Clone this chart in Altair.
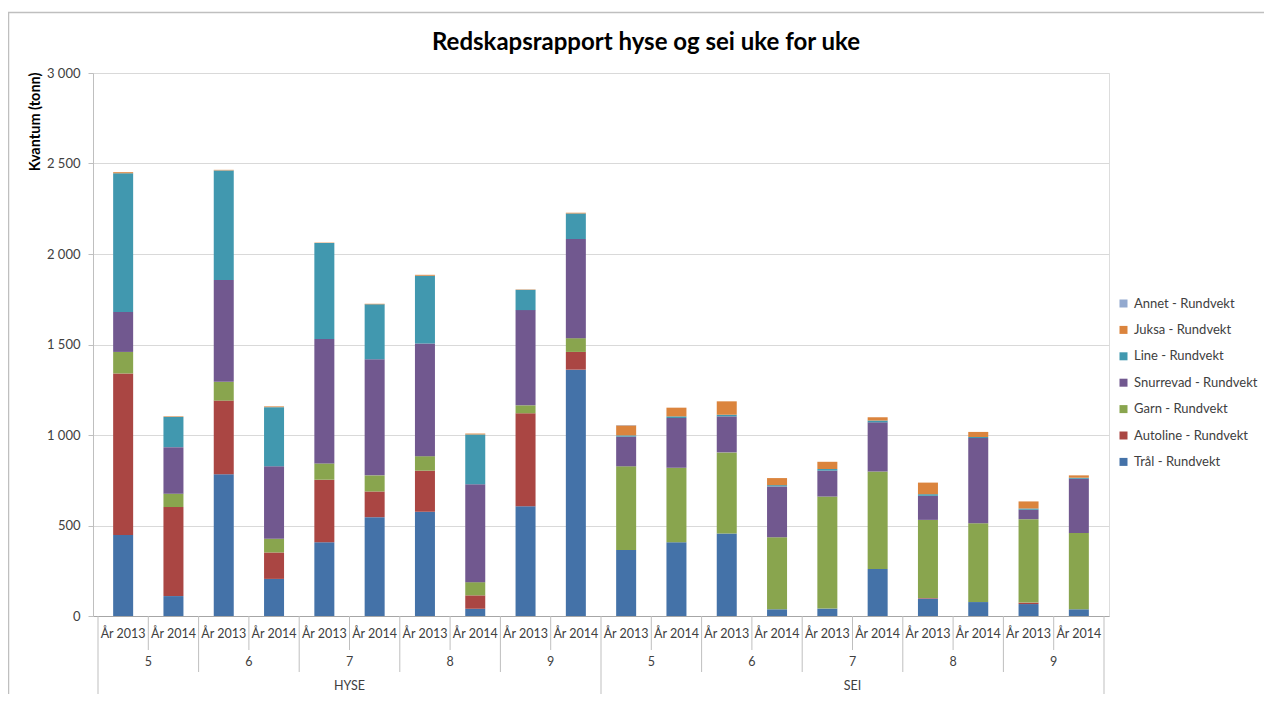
import altair as alt
import pandas as pd

# ---- data ----
species = ["HYSE"] * 10 + ["SEI"] * 10
weeks = [5, 5, 6, 6, 7, 7, 8, 8, 9, 9] * 2
years = ["År 2013", "År 2014"] * 10

tral = [447, 110, 783, 205, 407, 546, 576, 40, 606, 1361,
        365, 408, 456, 37, 41, 260, 96, 77, 66, 37]
autoline = [893, 492, 407, 146, 346, 142, 227, 74, 514, 98,
            0, 0, 0, 0, 0, 0, 3, 0, 8, 0]
garn = [119, 74, 104, 76, 90, 89, 80, 73, 44, 76,
        462, 411, 448, 398, 619, 539, 432, 436, 461, 421]
snurrevad = [221, 257, 562, 400, 688, 642, 622, 541, 526, 548,
             164, 275, 199, 281, 143, 271, 133, 470, 52, 300]
line = [766, 167, 606, 327, 530, 303, 375, 275, 112, 141,
        7, 9, 9, 7, 9, 10, 9, 6, 7, 6]
juksa = [6, 3, 3, 4, 2, 3, 5, 5, 2, 4,
         55, 48, 74, 39, 40, 18, 64, 28, 39, 13]
annet = [0] * 10 + [2, 0, 0, 0, 0, 0, 0, 0, 0, 0]

series_names = ["Trål - Rundvekt", "Autoline - Rundvekt", "Garn - Rundvekt",
                "Snurrevad - Rundvekt", "Line - Rundvekt", "Juksa - Rundvekt",
                "Annet - Rundvekt"]
series_values = [tral, autoline, garn, snurrevad, line, juksa, annet]
series_colors = ["#4472A8", "#AA4643", "#89A54E", "#71588F", "#4198AF", "#DB843D", "#93A9CF"]

week_labels = ["5", "6", "7", "8", "9"] * 2
species_labels = ["HYSE", "SEI"]
title_text = "Redskapsrapport hyse og sei uke for uke"

# ---- build tables ----
rows = []
for i in range(20):
    for k, (name, vals) in enumerate(zip(series_names, series_values)):
        if vals[i] > 0:
            rows.append({"pos": i + 0.5, "series": name, "ord": k, "value": vals[i]})
df = pd.DataFrame(rows)

year_df = pd.DataFrame({"pos": [i + 0.5 for i in range(20)], "label": years})
week_df = pd.DataFrame({"pos": [2 * j + 1 for j in range(10)], "label": week_labels})
species_df = pd.DataFrame({"pos": [5, 15], "label": species_labels})
short_df = pd.DataFrame({"pos": [b for b in range(21) if b % 2 == 1]})
mid_df = pd.DataFrame({"pos": [b for b in range(21) if b % 2 == 0 and b not in (0, 10, 20)]})
long_df = pd.DataFrame({"pos": [0, 10, 20]})

legend_order = list(reversed(series_names))
legend_colors = list(reversed(series_colors))

FONT = "Lato"
W, H = 1016, 543
xscale = alt.Scale(domain=[0, 20], nice=False, zero=False)

bars = alt.Chart(df).mark_bar(size=20).encode(
    x=alt.X("pos:Q", scale=xscale,
            axis=alt.Axis(labels=False, ticks=False, grid=False, domain=True,
                          domainColor="#a6a6a6", title=None)),
    y=alt.Y("value:Q", stack="zero",
            scale=alt.Scale(domain=[0, 3000], nice=False),
            axis=alt.Axis(values=[0, 500, 1000, 1500, 2000, 2500, 3000],
                          labelExpr="replace(format(datum.value, ','), ',', ' ')",
                          labelFont=FONT, labelFontSize=13, labelColor="#404040",
                          labelPadding=8, tickSize=5, tickColor="#bfbfbf",
                          domain=True, domainColor="#bfbfbf",
                          gridColor="#d9d9d9",
                          title="Kvantum (tonn)", titleFont=FONT, titleFontSize=14.5,
                          titleFontWeight="bold", titleColor="#000000",
                          titleAngle=270, titleX=-58, titleY=-1,
                          titleAlign="right", titleBaseline="middle")),
    color=alt.Color("series:N",
                    scale=alt.Scale(domain=legend_order, range=legend_colors),
                    legend=alt.Legend(title=None, orient="none", legendX=1024, legendY=224,
                                      symbolType="square", symbolSize=64, symbolStrokeWidth=0,
                                      labelFont=FONT, labelFontSize=13, labelColor="#404040",
                                      labelOffset=4, rowPadding=12.4)),
    order=alt.Order("ord:Q", sort="ascending"),
)

txt = dict(font=FONT, fontSize=12.5, color="#404040", baseline="middle", align="center")
year_text = alt.Chart(year_df).mark_text(**txt).encode(
    x=alt.X("pos:Q", scale=xscale), y=alt.value(561), text="label:N")
week_text = alt.Chart(week_df).mark_text(**txt).encode(
    x=alt.X("pos:Q", scale=xscale), y=alt.value(589), text="label:N")
species_text = alt.Chart(species_df).mark_text(**txt).encode(
    x=alt.X("pos:Q", scale=xscale), y=alt.value(613), text="label:N")

rule_style = dict(color="#bfbfbf", strokeWidth=1)
short_rules = alt.Chart(short_df).mark_rule(**rule_style).encode(
    x=alt.X("pos:Q", scale=xscale), y=alt.value(543), y2=alt.value(577))
mid_rules = alt.Chart(mid_df).mark_rule(**rule_style).encode(
    x=alt.X("pos:Q", scale=xscale), y=alt.value(543), y2=alt.value(599))
long_rules = alt.Chart(long_df).mark_rule(**rule_style).encode(
    x=alt.X("pos:Q", scale=xscale), y=alt.value(543), y2=alt.value(660))

one = pd.DataFrame({"t": [title_text]})
frame = alt.Chart(one).mark_rect(
    fill="transparent", stroke="#bfbfbf", strokeWidth=1.5).encode(
    x=alt.value(-84.5), x2=alt.value(1400), y=alt.value(-60.5), y2=alt.value(900))
title = alt.Chart(one).mark_text(font=FONT, fontSize=24, fontWeight="bold", color="#000000",
                                 align="center", baseline="alphabetic").encode(
    x=alt.value(553), y=alt.value(-23), text="t:N")

chart = alt.layer(frame, bars, short_rules, mid_rules, long_rules,
                  year_text, week_text, species_text, title).properties(
    width=W, height=H,
    autosize=alt.AutoSizeParams(type="none"),
    padding={"left": 85, "top": 65, "right": 155, "bottom": 78},
).configure_view(stroke=None).configure(background="white")

chart.save("out.html", embed_options={"renderer": "svg", "actions": False})
